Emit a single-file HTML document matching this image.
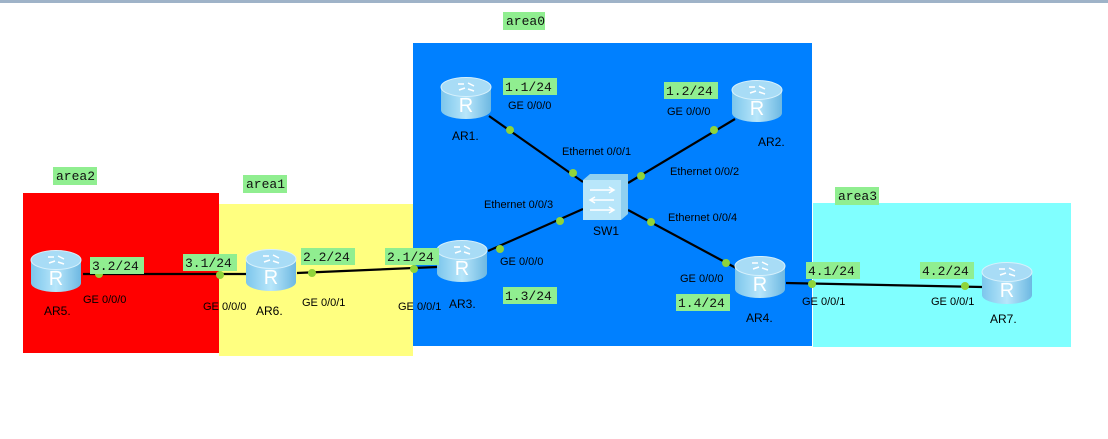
<!DOCTYPE html>
<html><head><meta charset="utf-8"><style>
html,body{margin:0;padding:0;background:#fff;}
svg{display:block;}
.lab{font-family:"Liberation Sans",sans-serif;font-size:11px;fill:#000;}
.ip{font-family:"Liberation Mono",monospace;font-size:13px;fill:#111;}
.R{font-family:"Liberation Sans",sans-serif;font-size:20px;fill:#fff;text-anchor:middle;}
</style></head><body>
<svg width="1108" height="439" viewBox="0 0 1108 439" xmlns="http://www.w3.org/2000/svg">
<defs>
<linearGradient id="rb" x1="0" x2="1" y1="0" y2="0">
<stop offset="0" stop-color="#7cc6ec"/><stop offset="0.5" stop-color="#b8e6fa"/><stop offset="1" stop-color="#6db8e2"/>
</linearGradient>
<g id="rt">
<path d="M0 10 L0 33 A25 9 0 0 0 50 33 L50 10 Z" fill="url(#rb)"/>
<ellipse cx="25" cy="10" rx="25" ry="9.5" fill="#a8dcf6" stroke="#d8f1fc" stroke-width="1"/>
<path d="M17 7 l6 0 M27 6 l6 3 M18 13 l6 -2 M27 12 l6 2" stroke="#fff" stroke-width="1.5" fill="none"/>
</g>
</defs>
<rect x="0" y="0" width="1108" height="3" fill="#9fb3c8"/>
<!-- areas -->
<rect x="23" y="193" width="196" height="160" fill="#ff0000"/>
<rect x="219" y="204" width="194" height="152" fill="#ffff80"/>
<rect x="413" y="43" width="399" height="303" fill="#0080ff"/>
<rect x="813" y="203" width="258" height="144" fill="#80ffff"/>
<!-- area labels -->
<rect x="503" y="12" width="42" height="18" fill="#90ee90"/><text class="ip" x="506" y="25">area0</text>
<rect x="53" y="167" width="44" height="18" fill="#90ee90"/><text class="ip" x="56" y="180">area2</text>
<rect x="243" y="175" width="44" height="18" fill="#90ee90"/><text class="ip" x="246" y="188">area1</text>
<rect x="835" y="187" width="44" height="18" fill="#90ee90"/><text class="ip" x="838" y="200">area3</text>
<!-- links -->
<g stroke="#000" stroke-width="2.2">
<line x1="83" y1="274" x2="246" y2="274"/>
<line x1="297" y1="273" x2="437" y2="267"/>
<line x1="488" y1="251" x2="583" y2="209"/>
<line x1="583" y1="182" x2="489" y2="116"/>
<line x1="628" y1="183" x2="735" y2="119"/>
<line x1="628" y1="210" x2="736" y2="268"/>
<line x1="786" y1="283" x2="982" y2="287"/>
</g>
<g fill="#8fd43a">
<circle cx="99" cy="274" r="4"/><circle cx="220" cy="275" r="4"/>
<circle cx="312" cy="273" r="4"/><circle cx="414" cy="269" r="4"/>
<circle cx="500" cy="249" r="4"/><circle cx="560" cy="221" r="4"/>
<circle cx="510" cy="130" r="4"/><circle cx="573" cy="173" r="4"/>
<circle cx="641" cy="176" r="4"/><circle cx="714" cy="130" r="4"/>
<circle cx="651" cy="222" r="4"/><circle cx="726" cy="263" r="4"/>
<circle cx="812" cy="284" r="4"/><circle cx="965" cy="286" r="4"/>
</g>
<!-- routers -->
<use href="#rt" x="441" y="77"/><text class="R" x="466" y="112">R</text>
<use href="#rt" x="732" y="80"/><text class="R" x="757" y="115">R</text>
<use href="#rt" x="437" y="240"/><text class="R" x="462" y="275">R</text>
<use href="#rt" x="735" y="256"/><text class="R" x="760" y="291">R</text>
<use href="#rt" x="31" y="250"/><text class="R" x="56" y="285">R</text>
<use href="#rt" x="246" y="249"/><text class="R" x="271" y="284">R</text>
<use href="#rt" x="982" y="262"/><text class="R" x="1007" y="297">R</text>
<!-- switch -->
<path d="M583 180 L590 174 L628 174 L628 214 L621 220 L583 220 Z" fill="#8fd0f0"/>
<rect x="583" y="180" width="38" height="40" fill="#b8e6fa"/>
<path d="M590 190 h24 m-5 -3 l5 3 l-5 3 M614 200 h-24 m5 -3 l-5 3 l5 3 M590 210 h24 m-5 -3 l5 3 l-5 3" stroke="#fff" stroke-width="1.5" fill="none"/>
<!-- names -->
<g class="lab" font-size="12">
<text class="lab" x="452" y="140" style="font-size:12px">AR1.</text>
<text class="lab" x="758" y="146" style="font-size:12px">AR2.</text>
<text class="lab" x="449" y="308" style="font-size:12px">AR3.</text>
<text class="lab" x="746" y="322" style="font-size:12px">AR4.</text>
<text class="lab" x="44" y="315" style="font-size:12px">AR5.</text>
<text class="lab" x="256" y="315" style="font-size:12px">AR6.</text>
<text class="lab" x="990" y="323" style="font-size:12px">AR7.</text>
<text class="lab" x="593" y="235" style="font-size:12px">SW1</text>
</g>
<!-- port labels -->
<text class="lab" x="508" y="109">GE 0/0/0</text>
<text class="lab" x="667" y="115">GE 0/0/0</text>
<text class="lab" x="562" y="155">Ethernet 0/0/1</text>
<text class="lab" x="670" y="175">Ethernet 0/0/2</text>
<text class="lab" x="484" y="208">Ethernet 0/0/3</text>
<text class="lab" x="668" y="221">Ethernet 0/0/4</text>
<text class="lab" x="500" y="265">GE 0/0/0</text>
<text class="lab" x="680" y="282">GE 0/0/0</text>
<text class="lab" x="83" y="303">GE 0/0/0</text>
<text class="lab" x="203" y="310">GE 0/0/0</text>
<text class="lab" x="302" y="306">GE 0/0/1</text>
<text class="lab" x="398" y="310">GE 0/0/1</text>
<text class="lab" x="802" y="305">GE 0/0/1</text>
<text class="lab" x="931" y="305">GE 0/0/1</text>
<!-- ip labels -->
<g fill="#90ee90">
<rect x="503" y="78" width="54" height="17"/><rect x="664" y="82" width="54" height="17"/>
<rect x="503" y="287" width="54" height="17"/><rect x="676" y="294" width="54" height="17"/>
<rect x="90" y="257" width="54" height="17"/><rect x="183" y="254" width="54" height="17"/>
<rect x="301" y="248" width="54" height="17"/><rect x="385" y="248" width="54" height="17"/>
<rect x="806" y="262" width="54" height="17"/><rect x="920" y="262" width="54" height="17"/>
</g>
<text class="ip" x="505" y="91">1.1/24</text>
<text class="ip" x="666" y="95">1.2/24</text>
<text class="ip" x="505" y="300">1.3/24</text>
<text class="ip" x="678" y="307">1.4/24</text>
<text class="ip" x="92" y="270">3.2/24</text>
<text class="ip" x="185" y="267">3.1/24</text>
<text class="ip" x="303" y="261">2.2/24</text>
<text class="ip" x="387" y="261">2.1/24</text>
<text class="ip" x="808" y="275">4.1/24</text>
<text class="ip" x="922" y="275">4.2/24</text>
</svg>
</body></html>
